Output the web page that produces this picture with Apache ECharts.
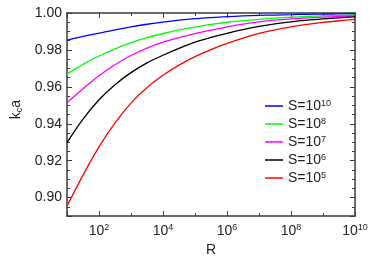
<!DOCTYPE html>
<html>
<head>
<meta charset="utf-8">
<script src="https://cdn.jsdelivr.net/npm/echarts@6/dist/echarts.min.js"></script>
<style>html,body{margin:0;padding:0;background:#fff}#c{width:374px;height:262px}</style>
</head>
<body>
<div id="c"></div>
<script>
// log10(R) sample positions
const rExp = [1, 1.5, 2, 2.5, 3, 3.5, 4, 4.5, 5, 5.5, 6, 6.5, 7, 7.5, 8, 8.5, 9, 9.5, 10];
const sNames = ['10', '8', '7', '6', '5'];          // S = 10^n
const sColors = ['#0000ff', '#00ff00', '#ff00ff', '#000000', '#ff0000'];
const kS10 = [0.9852, 0.9873, 0.9891, 0.9909, 0.9925, 0.9939, 0.9951, 0.9961, 0.9969, 0.9975, 0.9980, 0.9984, 0.9987, 0.9989, 0.9991, 0.9993, 0.9994, 0.9995, 0.9996];
const kS8  = [0.9670, 0.9722, 0.9767, 0.9806, 0.9840, 0.9867, 0.9889, 0.9908, 0.9924, 0.9938, 0.9950, 0.9959, 0.9966, 0.9972, 0.9977, 0.9981, 0.9984, 0.9986, 0.9988];
const kS7  = [0.9514, 0.9590, 0.9660, 0.9720, 0.9770, 0.9810, 0.9842, 0.9867, 0.9888, 0.9907, 0.9925, 0.9940, 0.9952, 0.9961, 0.9968, 0.9974, 0.9978, 0.9981, 0.9984];
const kS6  = [0.9298, 0.9425, 0.9530, 0.9612, 0.9677, 0.9730, 0.9771, 0.9808, 0.9842, 0.9868, 0.9890, 0.9910, 0.9927, 0.9941, 0.9952, 0.9961, 0.9968, 0.9974, 0.9979];
const kS5  = [0.8954, 0.9122, 0.9275, 0.9405, 0.9512, 0.9597, 0.9663, 0.9718, 0.9764, 0.9802, 0.9835, 0.9864, 0.9889, 0.9909, 0.9925, 0.9938, 0.9949, 0.9958, 0.9966];
const yTicks = [0.90, 0.92, 0.94, 0.96, 0.98, 1.00];
const xTickExps = [2, 4, 6, 8, 10];
const xTitle = 'R';

const allK = [kS10, kS8, kS7, kS6, kS5];
const FONT = 'Liberation Sans';
const axisCol = '#3a3a3a';

const chart = echarts.init(document.getElementById('c'), null, {renderer: 'canvas'});

function xAxisCfg(pos, showLabel) {
  return {
    type: 'value', position: pos, inverse: true,
    min: -10, max: -1, interval: 2,
    axisLine: {show: true, onZero: false, lineStyle: {color: axisCol, width: 1.5}},
    axisTick: {show: true, inside: true, length: 5, lineStyle: {color: axisCol, width: 1}},
    minorTick: {show: true, splitNumber: 2, length: 3, lineStyle: {color: axisCol, width: 1}},
    splitLine: {show: false},
    axisLabel: showLabel ? {
      show: true, margin: 7,
      formatter: v => {
        const e = Math.round(-v);
        return xTickExps.indexOf(e) >= 0 ? '{b|10}{s|' + e + '}' : '';
      },
      rich: {
        b: {fontFamily: FONT, fontSize: 14, color: '#222', lineHeight: 16},
        s: {fontFamily: FONT, fontSize: 9, color: '#222', verticalAlign: 'top', lineHeight: 10}
      }
    } : {show: false},
    name: showLabel ? xTitle : '',
    nameLocation: 'middle', nameGap: 26,
    nameTextStyle: {fontFamily: FONT, fontSize: 14, color: '#222'}
  };
}
function yAxisCfg(pos, showLabel) {
  return {
    type: 'value', position: pos, inverse: true,
    min: -1.00, max: -0.89, interval: 0.02,
    axisLine: {show: true, onZero: false, lineStyle: {color: axisCol, width: 1.5}},
    axisTick: {show: true, inside: true, length: 5, lineStyle: {color: axisCol, width: 1}},
    minorTick: {show: true, splitNumber: 4, length: 3, lineStyle: {color: axisCol, width: 1}},
    splitLine: {show: false},
    axisLabel: showLabel ? {
      show: true, margin: 5,
      fontFamily: FONT, fontSize: 14, color: '#222',
      formatter: v => {
        const k = Math.round(-v * 100) / 100;
        return yTicks.some(t => Math.abs(t - k) < 1e-6) ? k.toFixed(2) : '';
      }
    } : {show: false},
    name: showLabel ? '{i|k}{sub|c}{i|a}' : '',
    nameLocation: 'middle', nameGap: 40,
    nameTextStyle: {
      padding: [0, 0, 0, 10],
      rich: {
        i: {fontFamily: FONT, fontSize: 14, color: '#222', lineHeight: 16},
        sub: {fontFamily: FONT, fontSize: 9, color: '#222', verticalAlign: 'bottom', lineHeight: 10}
      }
    }
  };
}

const series = sNames.map((n, i) => ({
  name: 'S=10^' + n,
  type: 'line',
  smooth: 0.3,
  symbol: 'none',
  showSymbol: false,
  xAxisIndex: 0, yAxisIndex: 0,
  lineStyle: {color: sColors[i], width: 1.3},
  itemStyle: {color: sColors[i]},
  // axis value = -log10(R) on an inverted axis
  data: rExp.map((e, j) => [-e, -allK[i][j]])
}));

chart.setOption({
  animation: false,
  backgroundColor: '#fff',
  grid: {left: 67, right: 19, top: 13, bottom: 43, containLabel: false},
  xAxis: [xAxisCfg('bottom', true), xAxisCfg('top', false)],
  yAxis: [yAxisCfg('left', true), yAxisCfg('right', false)],
  legend: {
    orient: 'vertical', left: 260, top: 94,
    icon: 'rect',
    itemWidth: 18, itemHeight: 1.5, itemGap: 4,
    data: series.map(s => s.name),
    formatter: name => '{b|S=10}{s|' + name.split('^')[1] + '}',
    textStyle: {
      rich: {
        b: {fontFamily: FONT, fontSize: 14, color: '#222', lineHeight: 14},
        s: {fontFamily: FONT, fontSize: 9, color: '#222', verticalAlign: 'top', lineHeight: 9}
      }
    }
  },
  series: series
});
</script>
</body>
</html>
